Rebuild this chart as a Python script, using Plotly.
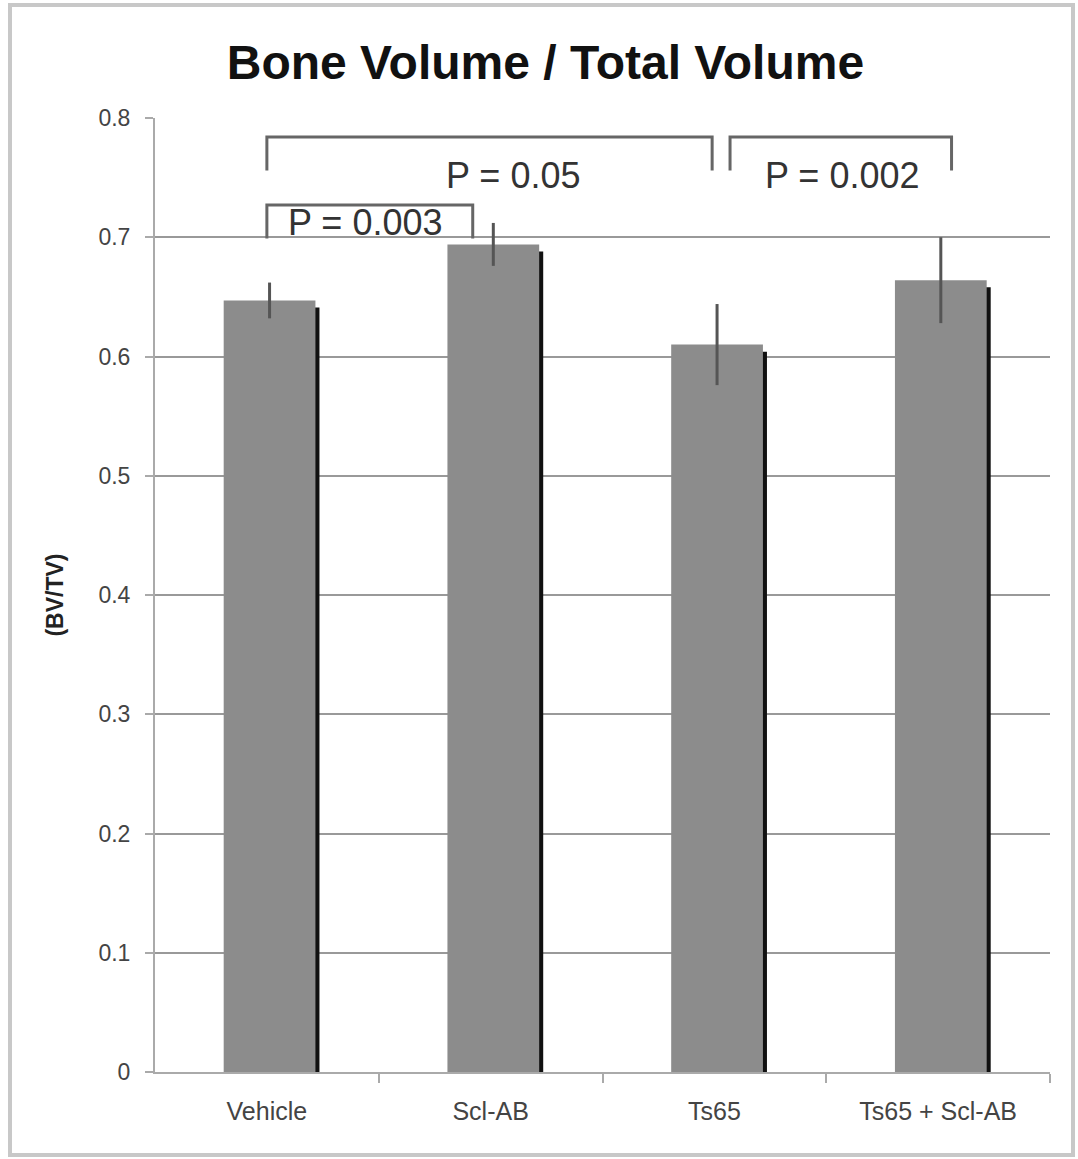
import plotly.graph_objects as go

categories = ["Vehicle", "Scl-AB", "Ts65", "Ts65 + Scl-AB"]
bv_tv = [0.647, 0.694, 0.610, 0.664]
sem = [0.015, 0.018, 0.034, 0.036]
y_ticks = [0, 0.1, 0.2, 0.3, 0.4, 0.5, 0.6, 0.7, 0.8]
y_tick_labels = ["0", "0.1", "0.2", "0.3", "0.4", "0.5", "0.6", "0.7", "0.8"]
# significance brackets: (x_start, x_end, y_top, y_leg, label, label_x, label_y)
brackets = [
    (0.0, 1.99, 0.784, 0.756, "P = 0.05", 1.10, 0.752),
    (2.07, 3.06, 0.784, 0.756, "P = 0.002", 2.57, 0.752),
    (0.0, 0.92, 0.727, 0.699, "P = 0.003", 0.44, 0.712),
]

xpos = list(range(len(categories)))
W = 0.41
SHIFT = 0.012
FONT = "Liberation Sans, Arial, sans-serif"

fig = go.Figure()
# shadow bars
fig.add_trace(go.Bar(
    x=xpos, y=[v - 0.006 for v in bv_tv], width=W, offset=-W / 2 + SHIFT + 0.018,
    marker=dict(color="#111111", line=dict(width=0)), hoverinfo="skip", showlegend=False))
# main bars
fig.add_trace(go.Bar(
    x=xpos, y=bv_tv, width=W, offset=-W / 2 + SHIFT,
    marker=dict(color="#8c8c8c", line=dict(width=0)),
    error_y=dict(type="data", array=sem, visible=True, width=0, thickness=3, color="#555555"),
    showlegend=False))

shapes = []
for x0, x1, yt, yl, lab, lx, ly in brackets:
    shapes.append(dict(type="path", xref="x", yref="y",
                       path=f"M {x0} {yl} L {x0} {yt} L {x1} {yt} L {x1} {yl}",
                       line=dict(color="#666666", width=3)))
    fig.add_annotation(x=lx, y=ly, xref="x", yref="y", text=lab, showarrow=False,
                       font=dict(family=FONT, size=36, color="#333333"))

# outer frame
shapes.append(dict(type="rect", xref="paper", yref="paper",
                   x0=-0.162, x1=1.0257, y0=-0.087, y1=1.1185,
                   line=dict(color="#c8c8c8", width=4), layer="below"))

fig.update_layout(
    width=1078, height=1159,
    margin=dict(l=155, r=28, t=118, b=87),
    paper_bgcolor="white", plot_bgcolor="white",
    barmode="overlay",
    shapes=shapes,
    title=dict(text="<b>Bone Volume / Total Volume</b>", x=0.506, xanchor="center",
               y=1 - 62 / 1159, yanchor="middle", yref="container",
               font=dict(family=FONT, size=48, color="#111111")),
    xaxis=dict(range=[-0.5, 3.5], tickvals=xpos, ticktext=categories, ticks="",
               showgrid=False, zeroline=False, showline=True, linecolor="#aaaaaa", linewidth=2,
               ticklabelstandoff=16,
               tickfont=dict(family=FONT, size=25, color="#444444"),
               minor=dict(tickvals=[0.5, 1.5, 2.5, 3.5], ticks="outside", ticklen=9,
                          tickcolor="#aaaaaa", tickwidth=2, showgrid=False)),
    yaxis=dict(range=[0, 0.8], tickvals=y_ticks, ticktext=y_tick_labels,
               ticks="outside", ticklen=8, tickcolor="#aaaaaa", tickwidth=2,
               showgrid=True, gridcolor="#999999", gridwidth=2, zeroline=False,
               showline=True, linecolor="#aaaaaa", linewidth=2,
               ticklabelstandoff=10,
               tickfont=dict(family=FONT, size=23, color="#444444"),
               title=dict(text="<b>(BV/TV)</b>", standoff=28,
                          font=dict(family=FONT, size=23, color="#222222"))),
)

fig.write_html("out.html", config={"displayModeBar": False},
               post_script="document.body.style.margin='0';document.body.style.padding='0';")
